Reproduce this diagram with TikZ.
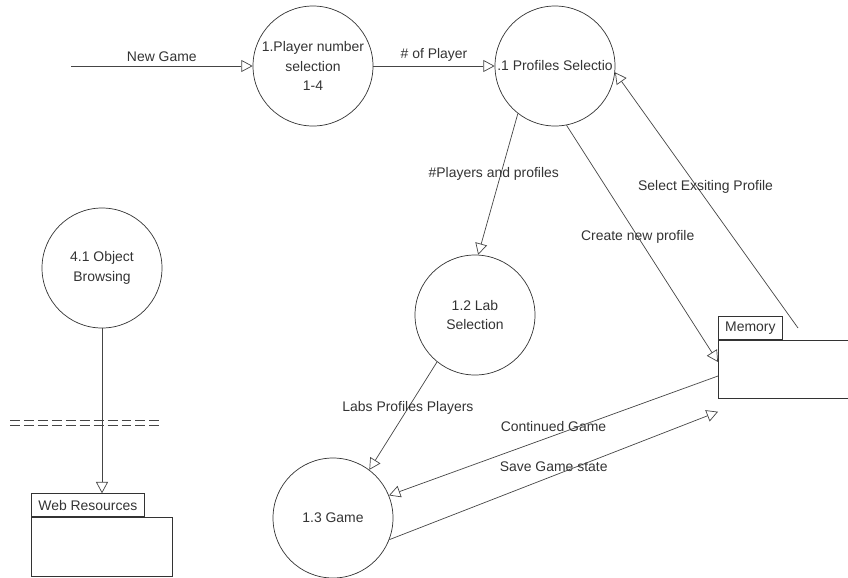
\documentclass[tikz,border=0pt]{standalone}
\usepackage{fontspec}
\setmainfont{Liberation Sans}
\usetikzlibrary{arrows.meta,calc}
\definecolor{ink}{HTML}{333333}
\definecolor{wire}{HTML}{454545}

\begin{document}
\begin{tikzpicture}[
  x=0.03cm, y=-0.03cm,
  font=\fontsize{11.9}{17}\selectfont, >={Triangle[open,length=3.4mm,width=3.6mm]},
  every node/.append style={text=ink},
  proc/.style={circle, draw=ink, line width=0.6pt, minimum size=3.6cm, inner sep=0pt, align=center},
  storetab/.style={draw=ink, line width=0.6pt, minimum height=0.69cm, inner sep=0pt, anchor=south west},
  storebox/.style={draw=ink, line width=0.6pt, minimum height=1.74cm, inner sep=0pt, anchor=north west},
  flow/.style={->, draw=wire, line width=0.6pt},
  sep/.style={draw=wire, line width=0.6pt, dash pattern=on 8.5pt off 3.4pt},
]
\clip (0,0) rectangle (848,577);
% processes
\node[proc] (plr) at (313,66) {1.Player number\\selection\\1-4};
\node[proc] (prof) at (555,66) {.1 Profiles Selectio};
\node[proc] (obj) at (102,268) {4.1 Object\\Browsing};
\node[proc] (lab) at (475,315) {1.2 Lab\\Selection};
\node[proc] (game) at (333,518) {1.3 Game};
% data stores
\node[storebox, minimum width=4.2cm] (mem) at (718,340) {};
\node[storetab, minimum width=1.92cm] (memtab) at (mem.north west) {Memory};
\node[storebox, minimum width=4.23cm, minimum height=1.77cm] (web) at (31,517) {};
\node[storetab, minimum width=3.39cm] (webtab) at (web.north west) {Web Resources};
% free ends
\coordinate (start) at (71,66);
\coordinate (memtop) at (798,328);
% separator
\draw[sep] (10,420) -- (160,420);
\draw[sep] (10,425) -- (160,425);
% flows
\draw[flow] (start) -- node[above] {New Game} (plr.west);
\draw[flow] (plr.east) -- node[above] {\# of Player} (prof.west);
\draw[flow] (prof.232) -- node[pos=0.43, xshift=-6pt] {\#Players and profiles} (lab.87);
\draw[flow] (prof.281) -- node[pos=0.47] {Create new profile} ($(mem.north west)+(0,22)$);
\draw[flow] (memtop) -- node[pos=0.55, xshift=7pt] {Select Exsiting Profile} (prof.354);
\draw[flow] (lab.231) -- node[pos=0.43] {Labs Profiles Players} (game.53);
\draw[flow] ($(mem.north west)+(0,36)$) -- node[midway, yshift=8pt] {Continued Game} (game.22);
\draw[flow] (game.339) -- node[midway, yshift=8pt] {Save Game state} ($(mem.south west)+(0,13)$);
\draw[flow] (obj.south) -- (obj.south |- webtab.north);
\end{tikzpicture}
\end{document}
